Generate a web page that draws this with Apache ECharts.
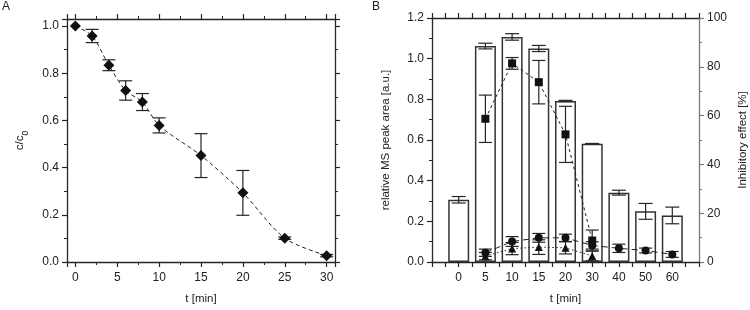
<!DOCTYPE html>
<html>
<head>
<meta charset="utf-8">
<script src="https://cdn.jsdelivr.net/npm/echarts@6/dist/echarts.min.js"></script>
<style>
  html, body { margin: 0; padding: 0; background: #fff; }
  #main { width: 750px; height: 310px; }
</style>
</head>
<body>
<div id="main"></div>
<script>
// panel A: c/c0 over time
const tA = [0, 2, 4, 6, 8, 10, 15, 20, 25, 30];
const cA = [1.0, 0.958, 0.834, 0.727, 0.678, 0.579, 0.451, 0.293, 0.101, 0.027];
const cAErr = [0, 0.028, 0.023, 0.041, 0.036, 0.032, 0.093, 0.095, 0.005, 0.005];

// panel B: categories along t [min]
const catsB = ['0', '5', '10', '15', '20', '30', '40', '50', '60'];
const barB = [0.306, 1.062, 1.107, 1.050, 0.792, 0.582, 0.341, 0.249, 0.229];
const barBErr = [0.016, 0.014, 0.016, 0.015, 0.003, 0.001, 0.012, 0.039, 0.041];
// inhibitory effect [%], null where no point
const squareB = [null, 58.7, 81.4, 73.7, 52.3, 8.8, null, null, null];
const squareBErr = [null, 9.7, 2.4, 8.9, 11.5, 4.3, null, null, null];
const circleB = [null, 3.8, 8.4, 9.9, 9.9, 6.8, 5.6, 4.7, 3.1];
const circleBErr = [null, 1.5, 2.0, 1.8, 1.5, 1.5, 1.7, 1.0, 1.2];
const triangleB = [null, 2.4, 5.5, 6.1, 5.8, 2.5, null, null, null];
const triangleBErr = [null, 1.5, 2.5, 3.0, 2.5, 2.0, null, null, null];

const FONT = "'Liberation Sans', Arial, sans-serif";
const INK = '#262626';

function pairs(xs, ys) {
  return xs.map((x, i) => [x, ys[i]]).filter(p => p[1] != null);
}
function errRows(xs, ys, es) {
  return xs.map((x, i) => [x, ys[i] - (es[i] || 0), ys[i] + (es[i] || 0)])
    .filter((r, i) => ys[i] != null && es[i]);
}

function errorBars(xi, yi, rows, capW, color, z) {
  return {
    type: 'custom',
    xAxisIndex: xi,
    yAxisIndex: yi,
    data: rows,
    z: z,
    silent: true,
    encode: { x: 0, y: [1, 2] },
    renderItem: (params, api) => {
      const x = api.value(0);
      const lo = api.coord([x, api.value(1)]);
      const hi = api.coord([x, api.value(2)]);
      const st = { stroke: color, lineWidth: 1.2 };
      const h = capW / 2;
      return {
        type: 'group',
        children: [
          { type: 'line', shape: { x1: lo[0], y1: lo[1], x2: hi[0], y2: hi[1] }, style: st },
          { type: 'line', shape: { x1: hi[0] - h, y1: hi[1], x2: hi[0] + h, y2: hi[1] }, style: st },
          { type: 'line', shape: { x1: lo[0] - h, y1: lo[1], x2: lo[0] + h, y2: lo[1] }, style: st }
        ]
      };
    }
  };
}

const tickStyle = { color: '#222', fontSize: 12, fontFamily: FONT };
const nameStyle = { color: '#222', fontSize: 11.5, fontFamily: FONT };

function frameAxis(gridIndex, pos, opts, color) {
  const c = color || INK;
  return Object.assign({
    type: 'value',
    gridIndex: gridIndex,
    position: pos,
    axisLine: { show: true, onZero: false, lineStyle: { color: c, width: 1.3 } },
    axisTick: { show: true, inside: false, length: 5, lineStyle: { color: c, width: 1.2 } },
    minorTick: { show: true, splitNumber: 2, length: 3, lineStyle: { color: c, width: 1 } },
    splitLine: { show: false },
    axisLabel: { show: false }
  }, opts);
}

const chart = echarts.init(document.getElementById('main'));

const option = {
  animation: false,
  backgroundColor: '#fff',
  textStyle: { fontFamily: FONT },
  title: [
    { text: 'A', left: -3, top: -4, textStyle: { fontSize: 12, fontWeight: 'normal', color: '#222', fontFamily: FONT } },
    { text: 'B', left: 367, top: -4, textStyle: { fontSize: 12, fontWeight: 'normal', color: '#222', fontFamily: FONT } }
  ],
  grid: [
    { left: 67, top: 19, width: 268, height: 245 },
    { left: 432, top: 18, width: 270, height: 246 }
  ],
  xAxis: [
    frameAxis(0, 'bottom', {
      min: -1, max: 31,
      name: 't [min]', nameLocation: 'middle', nameGap: 31,
      nameTextStyle: nameStyle,
      axisLabel: Object.assign({ show: true, margin: 10,
        formatter: v => (v % 5 === 0 ? String(v) : '') }, tickStyle)
    }),
    frameAxis(0, 'top', { min: -1, max: 31 }),
    frameAxis(1, 'bottom', {
      min: -1, max: 9, interval: 0.5,
      minorTick: { show: false },
      name: 't [min]', nameLocation: 'middle', nameGap: 31,
      nameTextStyle: nameStyle,
      axisLabel: Object.assign({ show: true, margin: 10,
        formatter: v => (Number.isInteger(v) && v >= 0 && v < catsB.length ? catsB[v] : '') }, tickStyle)
    }),
    frameAxis(1, 'top', { min: -1, max: 9, interval: 0.5, minorTick: { show: false } })
  ],
  yAxis: [
    frameAxis(0, 'left', {
      min: 0, max: 1.03, interval: 0.2,
      name: '{m|c/c}{s|0}', nameLocation: 'middle', nameGap: 41, nameRotate: 90,
      nameTextStyle: {
        rich: {
          m: { fontSize: 11.5, fontFamily: FONT, color: '#222' },
          s: { fontSize: 8.5, fontFamily: FONT, color: '#222', verticalAlign: 'bottom', padding: [0, 0, -4, 0] }
        }
      },
      axisLabel: Object.assign({ show: true, margin: 8, showMaxLabel: false,
        formatter: v => (v <= 1.0001 ? v.toFixed(1) : '') }, tickStyle)
    }),
    frameAxis(0, 'right', { min: 0, max: 1.03, interval: 0.2 }),
    frameAxis(1, 'left', {
      min: 0, max: 1.2, interval: 0.2,
      name: 'relative MS peak area [a.u.]', nameLocation: 'middle', nameGap: 40, nameRotate: 90,
      nameTextStyle: nameStyle,
      axisLabel: Object.assign({ show: true, margin: 8, formatter: v => v.toFixed(1) }, tickStyle)
    }),
    frameAxis(1, 'right', {
      min: 0, max: 100, interval: 20,
      name: 'Inhibitory effect [%]', nameLocation: 'middle', nameGap: 38, nameRotate: 90,
      nameTextStyle: nameStyle,
      axisLabel: Object.assign({ show: true, margin: 8 }, tickStyle)
    }, '#7a7a7a')
  ],
  series: [
    // panel A
    errorBars(0, 0, errRows(tA, cA, cAErr), 13, INK, 3),
    {
      type: 'line',
      xAxisIndex: 0, yAxisIndex: 0,
      data: pairs(tA, cA),
      smooth: 0.3,
      symbol: 'diamond',
      symbolSize: [11, 11],
      itemStyle: { color: '#111' },
      lineStyle: { color: '#222', width: 1, type: [4, 3] },
      z: 4
    },
    // panel B bars
    {
      type: 'bar',
      xAxisIndex: 2, yAxisIndex: 2,
      data: pairs(catsB.map((c, i) => i), barB),
      barWidth: 21,
      itemStyle: { color: '#fff', borderColor: '#333', borderWidth: 1.5 },
      z: 2
    },
    errorBars(2, 2, errRows(catsB.map((c, i) => i), barB, barBErr), 14, INK, 3),
    // panel B inhibitory effect
    errorBars(2, 3, errRows(catsB.map((c, i) => i), squareB, squareBErr), 13, INK, 4),
    errorBars(2, 3, errRows(catsB.map((c, i) => i), circleB, circleBErr), 13, INK, 4),
    errorBars(2, 3, errRows(catsB.map((c, i) => i), triangleB, triangleBErr), 13, INK, 4),
    {
      type: 'line',
      xAxisIndex: 2, yAxisIndex: 3,
      data: pairs(catsB.map((c, i) => i), squareB),
      symbol: 'rect', symbolSize: 8,
      itemStyle: { color: '#111' },
      lineStyle: { color: '#222', width: 1, type: [3, 3] },
      z: 5
    },
    {
      type: 'line',
      xAxisIndex: 2, yAxisIndex: 3,
      data: pairs(catsB.map((c, i) => i), circleB),
      symbol: 'circle', symbolSize: 8,
      itemStyle: { color: '#111' },
      lineStyle: { color: '#222', width: 1, type: [6, 4] },
      z: 5
    },
    {
      type: 'line',
      xAxisIndex: 2, yAxisIndex: 3,
      data: pairs(catsB.map((c, i) => i), triangleB),
      symbol: 'triangle', symbolSize: 8,
      itemStyle: { color: '#111' },
      lineStyle: { color: '#222', width: 1, type: [1.5, 2.5] },
      z: 5
    }
  ]
};

chart.setOption(option);
</script>
</body>
</html>
